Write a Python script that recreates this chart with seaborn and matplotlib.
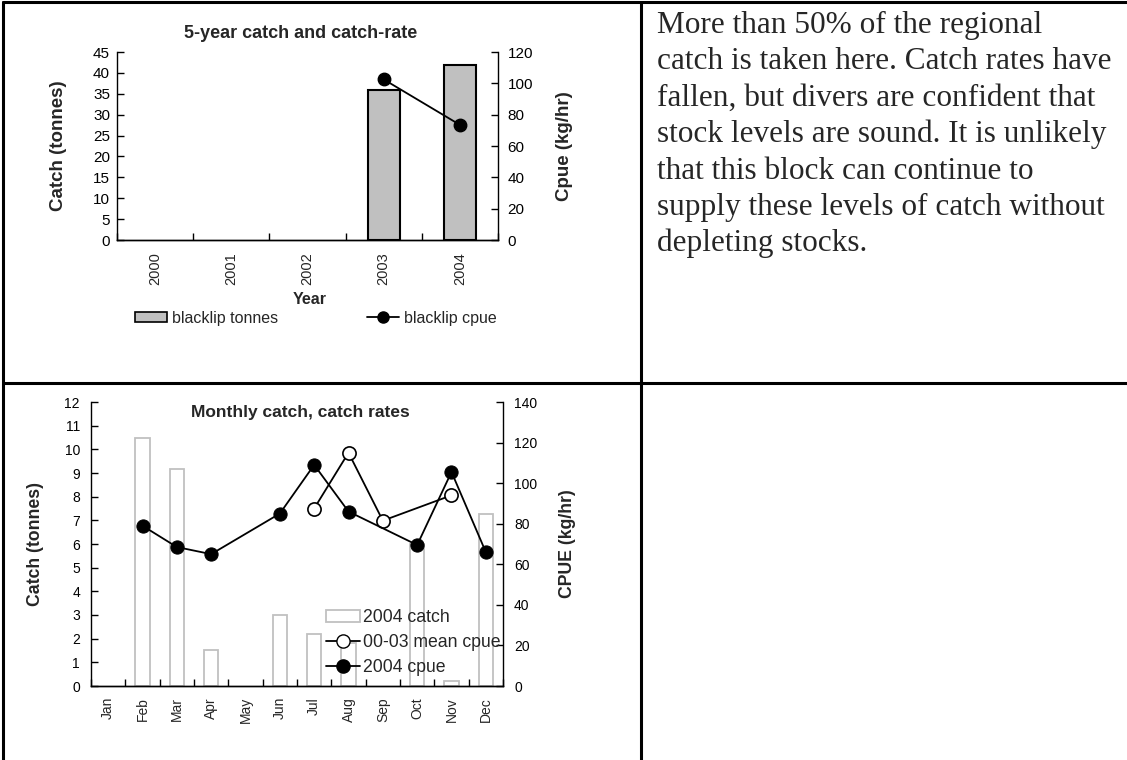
import matplotlib
matplotlib.use("Agg")
import matplotlib.pyplot as plt
import seaborn as sns
import pandas as pd
import numpy as np
from matplotlib.lines import Line2D
from matplotlib.patches import Patch
from matplotlib.ticker import FixedLocator

#%% Data
years = ["2000", "2001", "2002", "2003", "2004"]
year_tonnes = [np.nan, np.nan, np.nan, 36.0, 42.0]
year_cpue = [np.nan, np.nan, np.nan, 102.5, 73.5]

months = ["Jan", "Feb", "Mar", "Apr", "May", "Jun",
          "Jul", "Aug", "Sep", "Oct", "Nov", "Dec"]
catch_2004 = [np.nan, 10.5, 9.15, 1.52, np.nan, 2.98, 2.2, 1.8, np.nan, 6.0, 0.21, 7.26]
cpue_2004 = [np.nan, 79.0, 68.5, 65.0, np.nan, 85.0, 109.0, 86.0, np.nan, 69.5, 105.5, 66.0]
cpue_mean = [np.nan, np.nan, np.nan, np.nan, np.nan, np.nan, 87.5, 115.0, 81.5, np.nan, 94.0, np.nan]

comment_lines = [
    "More than 50% of the regional",
    "catch is taken here. Catch rates have",
    "fallen, but divers are confident that",
    "stock levels are sound. It is unlikely",
    "that this block can continue to",
    "supply these levels of catch without",
    "depleting stocks.",
]

#%% Set up
sns.set_style("ticks")
plt.rcParams["font.family"] = ["Liberation Sans", "DejaVu Sans"]
plt.rcParams["axes.linewidth"] = 1.0
plt.rcParams["xtick.direction"] = "in"
plt.rcParams["ytick.direction"] = "in"

W, H = 1127, 760
fig = plt.figure(figsize=(W / 100, H / 100), dpi=100)


def fx(px):
    return px / W


def fy(py):
    return 1 - py / H


def ax_rect(x0, y0, x1, y1):
    return [fx(x0), fy(y1), fx(x1) - fx(x0), fy(y0) - fy(y1)]


# table borders
for xs, ys in [((3, W), (2, 2)), ((3, 3), (2, H)), ((641, 641), (2, H)), ((3, W), (383, 383))]:
    fig.add_artist(Line2D([fx(xs[0]), fx(xs[1])], [fy(ys[0]), fy(ys[1])],
                          transform=fig.transFigure, color="black", lw=2.2))


def style_axes(ax, axr, n, tick_fs, pad_px):
    for a in (ax, axr):
        a.spines["top"].set_visible(False)
        for s in a.spines.values():
            s.set_color("black")
            s.set_linewidth(1.0)
    ax.spines["right"].set_visible(False)
    axr.spines["left"].set_visible(False)
    ax.xaxis.set_minor_locator(FixedLocator(np.arange(-0.5, n, 1)))
    ax.tick_params(axis="x", which="major", length=0, pad=pad_px * 0.72)
    ax.tick_params(axis="x", which="minor", length=5, width=1, color="black")
    ax.tick_params(axis="y", length=5, width=1, labelsize=tick_fs, colors="black")
    axr.tick_params(axis="y", length=5, width=1, labelsize=tick_fs, colors="black")


#%% 5-year catch and catch-rate
df_year = pd.DataFrame({"year": years, "tonnes": year_tonnes, "cpue": year_cpue})

ax1 = fig.add_axes(ax_rect(117, 52, 498, 240))
sns.barplot(data=df_year.dropna(subset=["tonnes"]), x="year", y="tonnes", order=years,
            color="#c0c0c0", saturation=1, edgecolor="black", linewidth=1.5,
            width=0.42, ax=ax1)
ax1b = ax1.twinx()
sns.pointplot(data=df_year.dropna(subset=["cpue"]), x="year", y="cpue", order=years,
              color="black", markersize=9, linewidth=1.3, errorbar=None, ax=ax1b)
ax1.set_ylim(0, 45)
ax1.set_yticks(np.arange(0, 46, 5))
ax1b.set_ylim(0, 120)
ax1b.set_yticks(np.arange(0, 121, 20))
style_axes(ax1, ax1b, len(years), 11, 12)
ax1.set_xlim(-0.5, len(years) - 0.5)
ax1.set_xticks(range(len(years)), years, rotation=90, fontsize=10.5)
ax1.tick_params(axis="y", pad=5)
ax1b.tick_params(axis="y", pad=7)
ax1.set_ylabel("Catch (tonnes)", fontweight="bold", fontsize=13.5)
ax1.yaxis.set_label_coords((67 - 117) / 381, 0.5)
ax1b.set_ylabel("Cpue (kg/hr)", fontweight="bold", fontsize=13.5, rotation=90)
ax1b.yaxis.set_label_coords((556 - 117) / 381, 0.5)
ax1.set_xlabel("Year", fontweight="bold", fontsize=11.5)
ax1.xaxis.set_label_coords((310 - 117) / 381, (240 - 292) / 188)
ax1b.set_xlabel("")
fig.text(fx(301), fy(33), "5-year catch and catch-rate", ha="center", va="center",
         fontweight="bold", fontsize=13)

leg_top = [Patch(facecolor="#c0c0c0", edgecolor="black", linewidth=1.2, label="blacklip tonnes"),
           Line2D([], [], color="black", marker="o", markersize=8, lw=1.3, label="blacklip cpue")]
fig.legend(handles=leg_top, loc="center left", bbox_to_anchor=(fx(135), fy(318)),
           ncol=2, frameon=False, fontsize=11.5, handlelength=2.0, handleheight=0.6,
           handletextpad=0.3, columnspacing=5.6, borderpad=0, borderaxespad=0)

#%% Monthly catch, catch rates
df_month = pd.DataFrame({"month": months, "catch": catch_2004,
                         "cpue": cpue_2004, "mean": cpue_mean})
df_month["pos"] = pd.Categorical(df_month["month"], categories=months).codes

ax2 = fig.add_axes(ax_rect(91, 402, 503, 686))
sns.barplot(data=df_month.dropna(subset=["catch"]), x="month", y="catch", order=months,
            color="white", saturation=1, edgecolor="#c0c0c0", linewidth=1.3,
            width=0.42, ax=ax2)
ax2b = ax2.twinx()
sns.lineplot(data=df_month.dropna(subset=["mean"]), x="pos", y="mean",
             color="black", marker="o", markerfacecolor="white", markeredgecolor="black",
             markeredgewidth=1.2, markersize=9.5, linewidth=1.3, ax=ax2b)
sns.lineplot(data=df_month.dropna(subset=["cpue"]), x="pos", y="cpue",
             color="black", marker="o", markerfacecolor="black", markeredgecolor="black",
             markersize=9.5, linewidth=1.3, ax=ax2b)
ax2.set_ylim(0, 12)
ax2.set_yticks(np.arange(0, 13, 1))
ax2b.set_ylim(0, 140)
ax2b.set_yticks(np.arange(0, 141, 20))
style_axes(ax2, ax2b, len(months), 10, 11)
ax2.set_xlim(-0.5, len(months) - 0.5)
ax2.set_xticks(range(len(months)), months, rotation=90, fontsize=10)
ax2.tick_params(axis="y", pad=8)
ax2b.tick_params(axis="y", pad=8)
ax2.set_ylabel("Catch (tonnes)", fontweight="bold", fontsize=12.7)
ax2.yaxis.set_label_coords((44 - 91) / 412, 0.5)
ax2b.set_ylabel("CPUE (kg/hr)", fontweight="bold", fontsize=12.7, rotation=90)
ax2b.yaxis.set_label_coords((559 - 91) / 412, 0.5)
ax2.set_xlabel("")
ax2b.set_xlabel("")
ax2.text((300 - 91) / 412, (686 - 412) / 284, "Monthly catch, catch rates",
         transform=ax2.transAxes, ha="center", va="center", fontweight="bold", fontsize=12.5)

leg_bot = [Patch(facecolor="white", edgecolor="#c0c0c0", linewidth=1.3, label="2004 catch"),
           Line2D([], [], color="black", marker="o", markerfacecolor="white",
                  markeredgecolor="black", markersize=9.5, lw=1.3, label="00-03 mean cpue"),
           Line2D([], [], color="black", marker="o", markersize=9.5, lw=1.3, label="2004 cpue")]
ax2b.legend(handles=leg_bot, loc="upper left", bbox_to_anchor=(fx(326), fy(609)),
            bbox_transform=fig.transFigure, frameon=False, fontsize=12.7,
            handlelength=1.9, handleheight=0.65, handletextpad=0.2, labelspacing=0.45,
            borderpad=0, borderaxespad=0)

#%% Comment text
for i, line in enumerate(comment_lines):
    fig.text(fx(657), fy(33 + i * 36.4), line, ha="left", va="baseline",
             family=["Liberation Serif", "DejaVu Serif"], fontsize=22.5)

fig.savefig("out.png", dpi=100)
